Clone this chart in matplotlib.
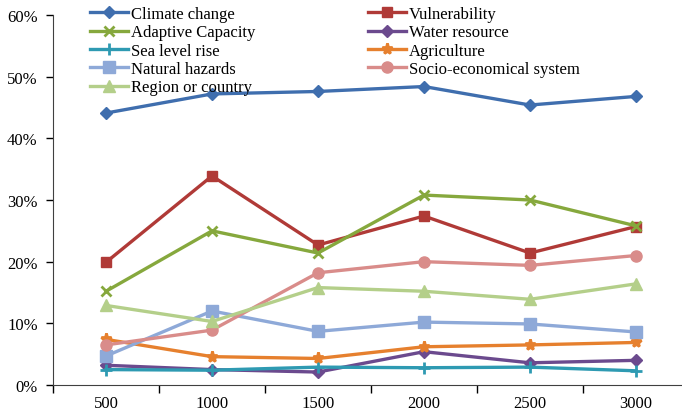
import matplotlib
matplotlib.use("Agg")
import matplotlib.pyplot as plt
from matplotlib.ticker import FixedLocator, FuncFormatter

plt.rcParams['font.family'] = ['Liberation Serif', 'DejaVu Serif']

categories = ["500", "1000", "1500", "2000", "2500", "3000"]

climate_change = [44.1, 47.2, 47.6, 48.4, 45.4, 46.8]
vulnerability = [19.9, 33.9, 22.7, 27.4, 21.4, 25.7]
adaptive_capacity = [15.2, 25.0, 21.4, 30.8, 30.0, 25.8]
water_resource = [3.2, 2.5, 2.1, 5.4, 3.6, 4.0]
sea_level_rise = [2.5, 2.4, 2.9, 2.8, 2.9, 2.3]
agriculture = [7.4, 4.6, 4.3, 6.2, 6.5, 6.9]
natural_hazards = [4.7, 12.0, 8.7, 10.2, 9.9, 8.6]
socio_economical = [6.5, 8.9, 18.2, 20.0, 19.4, 21.0]
region_or_country = [12.9, 10.3, 15.8, 15.2, 13.9, 16.4]

series = [
    ("Climate change", climate_change, "#3F6EAE", "D", 6),
    ("Vulnerability", vulnerability, "#B03A37", "s", 7),
    ("Adaptive Capacity", adaptive_capacity, "#86A83D", "x", 7),
    ("Water resource", water_resource, "#6B4A8E", "D", 6),
    ("Sea level rise", sea_level_rise, "#2E9AB2", "+", 8),
    ("Agriculture", agriculture, "#E6802E", "*", 8),
    ("Natural hazards", natural_hazards, "#8EA9D8", "s", 8),
    ("Socio-economical system", socio_economical, "#D98C8A", "o", 8),
    ("Region or country", region_or_country, "#B4CF8A", "^", 8),
]

W, H = 682, 414
fig = plt.figure(figsize=(W / 100, H / 100), dpi=100)
ax = fig.add_axes([53/W, 28/H, 636/W, 370/H])

x = list(range(len(categories)))
handles = []
for name, vals, color, marker, ms in series:
    kw = dict(markeredgewidth=2) if marker in ("x", "+", "*") else dict(markeredgecolor=color)
    h, = ax.plot(x, vals, color=color, linewidth=2.4, marker=marker, markersize=ms,
                 label=name, **kw)
    handles.append(h)

ax.set_xlim(-0.5, len(categories) - 0.5)
ax.set_ylim(0, 60)
ax.set_yticks(range(0, 61, 10))
ax.yaxis.set_major_formatter(FuncFormatter(lambda v, p: f"{int(v)}%"))
ax.set_xticks(x)
ax.set_xticklabels(categories)
ax.xaxis.set_minor_locator(FixedLocator([i + 0.5 for i in range(-1, len(categories))]))
ax.tick_params(axis='x', which='major', length=0, pad=7, labelsize=12)
ax.tick_params(axis='x', which='minor', length=6, width=1, direction='out')
ax.tick_params(axis='y', length=5, width=1, direction='out', labelsize=12, pad=6)

for s in ("top", "right"):
    ax.spines[s].set_visible(False)
ax.spines['left'].set_color('#404040')
ax.spines['bottom'].set_color('#404040')

legkw = dict(loc='upper left', frameon=False, fontsize=12, handlelength=2.3,
             handletextpad=0.15, labelspacing=0.14, borderaxespad=0, borderpad=0)
col1 = [0, 2, 4, 6, 8]
col2 = [1, 3, 5, 7]
leg1 = fig.legend([handles[i] for i in col1], [handles[i].get_label() for i in col1],
                  bbox_to_anchor=(90/W, 1 - 7/H), **legkw)
leg2 = fig.legend([handles[i] for i in col2], [handles[i].get_label() for i in col2],
                  bbox_to_anchor=(368/W, 1 - 7/H), **legkw)

fig.savefig("out.png", dpi=100)
